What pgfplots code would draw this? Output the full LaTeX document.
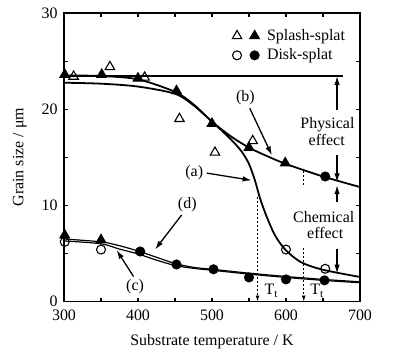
\documentclass[border=0pt]{standalone}
\usepackage{fontspec}
\setmainfont{Liberation Serif}
\usepackage{pgfplots}
\pgfplotsset{compat=1.18}
\usetikzlibrary{arrows.meta}
\begin{document}
\fontsize{16}{18}\selectfont
\begin{tikzpicture}[font=\fontsize{16}{18}\selectfont,
  arr/.style={line width=1.3pt, -{Latex[length=9bp,width=5.5bp]}},
  dsh/.style={line width=0.9pt, dash pattern=on 2.5bp off 1.5bp, -{Latex[length=6bp,width=4bp]}}]
\useasboundingbox (-64bp,-55.5bp) rectangle (330bp,301.5bp);
\begin{axis}[
  at={(0,0)}, anchor=south west,
  scale only axis, width=296bp, height=288.5bp,
  xmin=300, xmax=700, ymin=0, ymax=30,
  clip=false,
  xtick={300,400,500,600,700}, ytick={0,10,20,30},
  minor xtick={350,450,550,650}, minor ytick={5,15,25},
  tick align=inside, major tick length=4bp, minor tick length=4bp,
  axis line style={line width=2pt},
  every tick/.style={line width=1.1pt, black},
  /pgf/number format/assume math mode=true,
  tick label style={font=\fontsize{16}{18}\selectfont},
  xticklabel style={yshift=-3bp},
  yticklabel style={xshift=-1bp},
  xlabel={Substrate temperature / K},
  ylabel={Grain size / μm},
  xlabel style={at={(axis description cs:0.5,-0.14)}, anchor=center},
  ylabel style={at={(axis description cs:-0.149,0.5)}, anchor=center},
  legend style={draw=none, fill=none, at={(axis description cs:0.96,0.955)}, anchor=north east,
    font=\fontsize{16}{18}\selectfont, row sep=2bp, inner sep=1bp},
  legend cell align=left,
  every axis plot/.append style={black},
]
\addlegendimage{legend image code/.code={
  \path[draw=none] (-6bp,0bp) rectangle (28bp,0bp);
  \draw[line width=1.1pt, mark=triangle, mark size=5.5pt, mark options={fill=white}] plot coordinates {(0bp,0bp)};
  \draw[line width=1.1pt, mark=triangle*, mark size=5.5pt] plot coordinates {(17.6bp,0bp)};}}
\addlegendentry{Splash-splat}
\addlegendimage{legend image code/.code={
  \path[draw=none] (-6bp,0bp) rectangle (28bp,0bp);
  \draw[line width=1.1pt, mark=o, mark size=4.5pt, mark options={fill=white}] plot coordinates {(0bp,0bp)};
  \draw[line width=1.1pt, mark=*, mark size=4.5pt] plot coordinates {(17.6bp,0bp)};}}
\addlegendentry{Disk-splat}

% horizontal reference line
\addplot[line width=1.8pt, forget plot] coordinates {(300,23.45) (677,23.45)};
% curve (b)
\addplot[line width=1.8pt, smooth, forget plot] coordinates {
(300,23.5) (350,23.45) (400,23.1) (450,21.8) (475,20.5) (500,18.7) (525,17.2) (550,16.0) (575,15.1) (600,14.3) (650,13.0) (700,11.9)};
% curve (a)
\addplot[line width=1.8pt, smooth, forget plot] coordinates {
(300,22.75) (350,22.65) (400,22.35) (450,21.6) (475,20.4) (500,18.7) (525,16.9) (540,15.6) (550,14.3) (558,12.6) (565,10.7) (574,8.8) (585,6.9) (599,5.4) (620,4.1) (650,3.3) (700,2.55)};
% curve (d)
\addplot[line width=1.2pt, smooth, forget plot] coordinates {
(300,6.5) (350,6.2) (375,5.8) (400,5.25) (425,4.6) (450,3.95) (475,3.55) (500,3.35) (550,2.95) (600,2.6) (650,2.3) (700,2.05)};
% curve (c)
\addplot[line width=1.2pt, smooth, forget plot] coordinates {
(300,6.3) (350,6.0) (375,5.45) (400,4.95) (425,4.3) (450,3.75) (475,3.45) (500,3.25) (550,2.85) (600,2.5) (650,2.2) (700,1.95)};

% data: open triangles
\addplot[only marks, mark=triangle, mark size=5.5pt, line width=1.1pt, mark options={fill=white}, forget plot] coordinates {
(313,23.4) (362,24.4) (409,23.3) (456,19.0) (504,15.5) (555,16.7)};
% filled triangles
\addplot[only marks, mark=triangle*, mark size=5.5pt, line width=1.1pt, forget plot] coordinates {
(301,23.6) (351,23.6) (400,23.2) (452,21.9) (500,18.5) (550,16.0) (599,14.4) (301,6.9) (350,6.4)};
% open circles
\addplot[only marks, mark=o, mark size=4.5pt, line width=1.1pt, mark options={fill=white}, forget plot] coordinates {
(301,6.2) (350,5.4) (600,5.4) (653,3.4)};
% filled circles
\addplot[only marks, mark=*, mark size=4.5pt, line width=1.1pt, forget plot] coordinates {
(653,13.0) (403,5.2) (452,3.85) (502,3.35) (550,2.5) (600,2.3) (652,2.2)};

% labels and arrows
\node at (axis cs:476,13.35) {(a)};
\draw[arr] (axis cs:493,13.35) -- (axis cs:553.6,12.6);
\node at (axis cs:545,21.2) {(b)};
\draw[arr] (axis cs:551,20.1) -- (axis cs:581,15.2);
\node at (axis cs:466.6,10.05) {(d)};
\draw[arr] (axis cs:459,9.0) -- (axis cs:423,5.4);
\node at (axis cs:396,1.55) {(c)};
\draw[arr] (axis cs:394,2.6) -- (axis cs:371,5.35);

% dashed T lines
\draw[dsh] (axis cs:561.5,10.9) -- (axis cs:561.5,0);
\draw[line width=0.9pt, dash pattern=on 2.5bp off 1.5bp] (axis cs:624,13.6) -- (axis cs:624,12.1);
\draw[dsh] (axis cs:624,5.6) -- (axis cs:624,0);
\node at (axis cs:580,1.1) {T\textsubscript{t}};
\node at (axis cs:642,1.1) {T\textsubscript{t}};

% effect arrows
\draw[arr] (axis cs:669,19.9) -- (axis cs:669,23.45);
\node at (axis cs:656,18.4) {Physical};
\node at (axis cs:655,16.8) {effect};
\draw[arr] (axis cs:669,15.25) -- (axis cs:669,12.4);
\draw[arr] (axis cs:669,10.3) -- (axis cs:669,12.1);
\node at (axis cs:651,8.8) {Chemical};
\node at (axis cs:653,7.1) {effect};
\draw[arr] (axis cs:669,5.5) -- (axis cs:669,2.9);
\end{axis}
\end{tikzpicture}
\end{document}
